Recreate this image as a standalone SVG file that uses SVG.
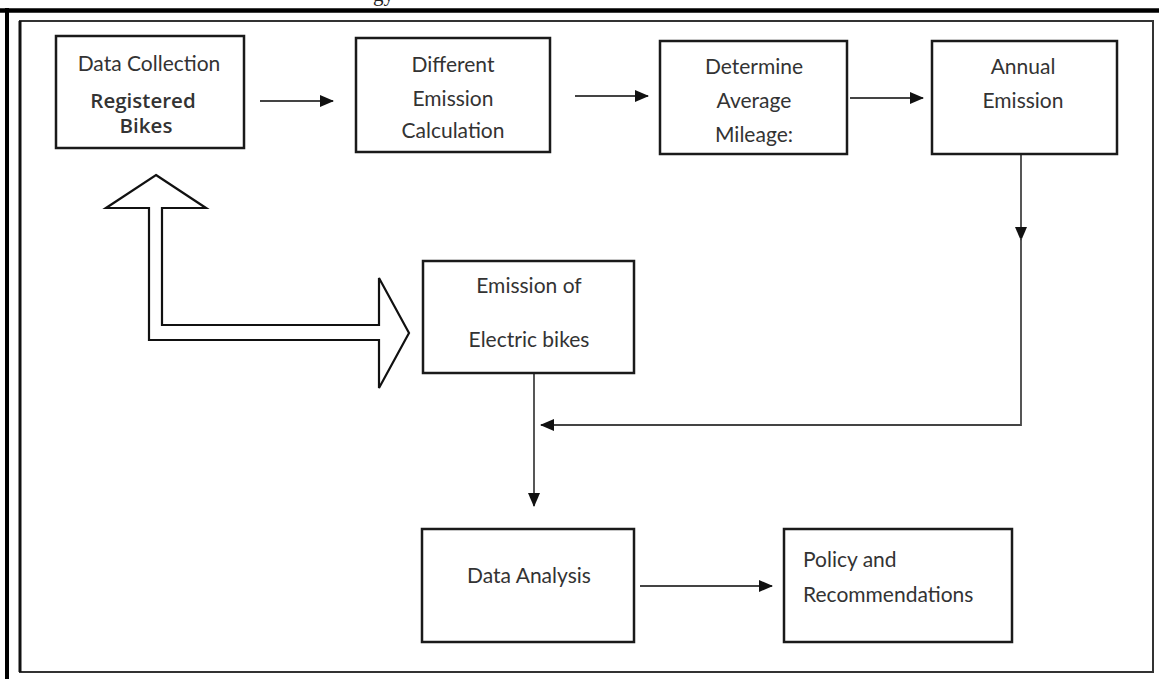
<svg xmlns="http://www.w3.org/2000/svg" width="1159" height="679" viewBox="0 0 1159 679">
<defs>
<style>
.box{fill:#fff;stroke:#1a1a1a;stroke-width:2.5}
.t{font-family:Lato,"Open Sans","Liberation Sans",sans-serif;font-size:21px;fill:#333;text-anchor:middle}
.b{font-family:"Open Sans","Noto Sans","Liberation Sans",sans-serif;font-size:20.5px;font-weight:600;fill:#333;text-anchor:middle}
.c{fill:none;stroke:#444;stroke-width:1.8}
</style>
<marker id="ah" markerUnits="userSpaceOnUse" markerWidth="14" markerHeight="12" viewBox="0 0 14 12" refX="13" refY="6" orient="auto">
<path d="M0,0 L14,6 L0,12 Z" fill="#111"/>
</marker>
</defs>
<rect width="1159" height="679" fill="#fff"/>
<text x="373" y="1" font-family="Liberation Serif,serif" font-size="21" fill="#222">gy</text>
<g id="frame">
<line x1="0" y1="10.5" x2="1159" y2="10.5" stroke="#000" stroke-width="4.5"/>
<line x1="7" y1="8" x2="7" y2="679" stroke="#000" stroke-width="4"/>
<rect x="20" y="21" width="1133" height="651" fill="none" stroke="#333" stroke-width="2"/>
<line x1="20" y1="21" x2="20" y2="672" stroke="#111" stroke-width="3"/>
</g>
<g id="double-arrow">
<polygon points="156,175 206,208 162,208 162,325 379,325 379,278 409,333 379,388 379,340 149,340 149,208 106,208" fill="#fff" stroke="#111" stroke-width="2.2" stroke-linejoin="miter"/>
</g>
<g id="connectors">
<path class="c" d="M260 101 H333" marker-end="url(#ah)"/>
<path class="c" d="M575 96 H648" marker-end="url(#ah)"/>
<path class="c" d="M850 98 H923" marker-end="url(#ah)"/>
<path class="c" d="M1021 154 V240" marker-end="url(#ah)"/>
<path class="c" d="M1021 238 V425 H541" marker-end="url(#ah)"/>
<path class="c" d="M534 373 V506" marker-end="url(#ah)"/>
<path class="c" d="M640 586 H772" marker-end="url(#ah)"/>
</g>
<g id="data-collection">
<rect class="box" x="56" y="36" width="188" height="112"/>
<text class="t" x="149" y="71">Data Collection</text>
<text class="b" x="143" y="108">Registered</text>
<text class="b" x="146" y="133">Bikes</text>
</g>
<g id="different-emission">
<rect class="box" x="356" y="38" width="194" height="114"/>
<text class="t" x="453" y="72">Different</text>
<text class="t" x="453" y="106">Emission</text>
<text class="t" x="453" y="138">Calculation</text>
</g>
<g id="average-mileage">
<rect class="box" x="660" y="41" width="187" height="113"/>
<text class="t" x="754" y="74">Determine</text>
<text class="t" x="754" y="108">Average</text>
<text class="t" x="754" y="142">Mileage:</text>
</g>
<g id="annual-emission">
<rect class="box" x="932" y="41" width="185" height="113"/>
<text class="t" x="1023" y="74">Annual</text>
<text class="t" x="1023" y="108">Emission</text>
</g>
<g id="electric-bikes">
<rect class="box" x="423" y="261" width="211" height="112"/>
<text class="t" x="529" y="293">Emission of</text>
<text class="t" x="529" y="347">Electric bikes</text>
</g>
<g id="data-analysis">
<rect class="box" x="422" y="529" width="212" height="113"/>
<text class="t" x="529" y="583">Data Analysis</text>
</g>
<g id="policy">
<rect class="box" x="784" y="529" width="228" height="113"/>
<text class="t" x="803" y="567" style="text-anchor:start">Policy and</text>
<text class="t" x="803" y="602" style="text-anchor:start">Recommendations</text>
</g>
</svg>
